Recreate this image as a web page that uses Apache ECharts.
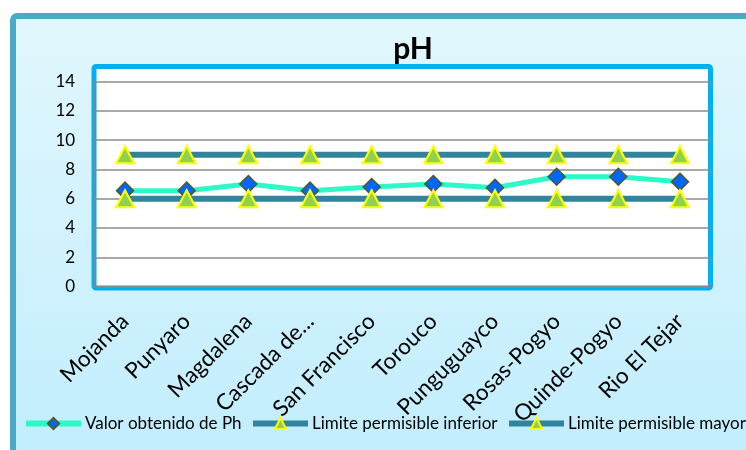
<!DOCTYPE html>
<html lang="es">
  <head>
    <meta charset="UTF-8" />
    <title>pH</title>
    <script src="https://cdn.jsdelivr.net/npm/echarts@6/dist/echarts.min.js"></script>
    <style>
      html, body { margin: 0; padding: 0; background: #ffffff; }
      #chart { width: 746px; height: 450px; }
    </style>
  </head>
  <body>
    <div id="chart"></div>
    <script>
      // datos
      const sitios = ["Mojanda", "Punyaro", "Magdalena", "Cascada de...", "San Francisco",
        "Torouco", "Punguguayco", "Rosas-Pogyo", "Quinde-Pogyo", "Rio El Tejar"];
      const valorPh = [6.55, 6.55, 7.0, 6.55, 6.8, 7.0, 6.75, 7.5, 7.5, 7.15];
      const limiteInferior = [6, 6, 6, 6, 6, 6, 6, 6, 6, 6];
      const limiteMayor = [9, 9, 9, 9, 9, 9, 9, 9, 9, 9];
      const nombres = ["Valor obtenido de Ph", "Limite permisible inferior", "Limite permisible mayor"];

      const fuente = "Lato";
      let chart = echarts.init(document.getElementById("chart"), null, { renderer: "canvas" });

      const triangulo = {
        symbol: "triangle",
        symbolSize: [18, 17],
        itemStyle: { color: "#92d050", borderColor: "#ffff00", borderWidth: 2 },
      };

      chart.setOption({
        animation: false,
        textStyle: { fontFamily: fuente },
        title: {
          text: "pH",
          left: 408,
          top: 29,
          textAlign: "center",
          textStyle: { fontFamily: fuente, fontWeight: "bold", fontSize: 30, color: "#000" },
        },
        graphic: [
          {
            type: "rect",
            z: -20,
            silent: true,
            shape: { x: 13, y: 16, width: 760, height: 460, r: 4 },
            style: {
              fill: new echarts.graphic.LinearGradient(0, 0, 0, 1, [
                { offset: 0, color: "#e2f7fd" },
                { offset: 1, color: "#c0edfd" },
              ]),
              stroke: "#4aabc6",
              lineWidth: 6,
            },
          },
          {
            type: "rect",
            z: -10,
            silent: true,
            shape: { x: 94, y: 66.5, width: 616.5, height: 221.5, r: 2 },
            style: { fill: "#ffffff", stroke: "#00b0f0", lineWidth: 5 },
          },
        ],
        legend: nombres.map((n, i) => ({
          data: [n],
          left: [23, 250, 506][i],
          top: 415,
          padding: 0,
          itemWidth: 55,
          itemHeight: 14,
          itemGap: 4,
          lineStyle: { width: 6 },
          textStyle: { fontFamily: fuente, fontSize: 17, color: "#000", padding: [0, 0, 0, -1] },
        })),
        grid: { left: 94.2, right: 35.2, top: 81.5, bottom: 163.4, containLabel: false },
        xAxis: {
          type: "category",
          data: sitios,
          boundaryGap: true,
          axisLine: { lineStyle: { color: "#868686", width: 1.5 } },
          axisTick: { show: false },
          axisLabel: { rotate: 45, margin: 31, fontSize: 22.5, color: "#000", fontFamily: fuente, interval: 0 },
        },
        yAxis: {
          type: "value",
          min: 0,
          max: 14,
          interval: 2,
          axisLine: { show: true, lineStyle: { color: "#868686", width: 1.5 } },
          axisTick: { show: false },
          axisLabel: { margin: 19, fontSize: 17, color: "#000", fontFamily: fuente },
          splitLine: { lineStyle: { color: "#8c8c8c", width: 1.5 } },
        },
        series: [
          {
            name: nombres[0],
            type: "line",
            data: valorPh,
            symbol: "diamond",
            symbolSize: 17,
            lineStyle: { color: "#2cf8c8", width: 5 },
            itemStyle: { color: "#0066ff", borderColor: "#4f5a28", borderWidth: 1.5 },
          },
          Object.assign({
            name: nombres[1],
            type: "line",
            data: limiteInferior,
            lineStyle: { color: "#31849b", width: 6 },
          }, triangulo),
          Object.assign({
            name: nombres[2],
            type: "line",
            data: limiteMayor,
            lineStyle: { color: "#31849b", width: 6 },
          }, triangulo),
        ],
      });
    </script>
  </body>
</html>
